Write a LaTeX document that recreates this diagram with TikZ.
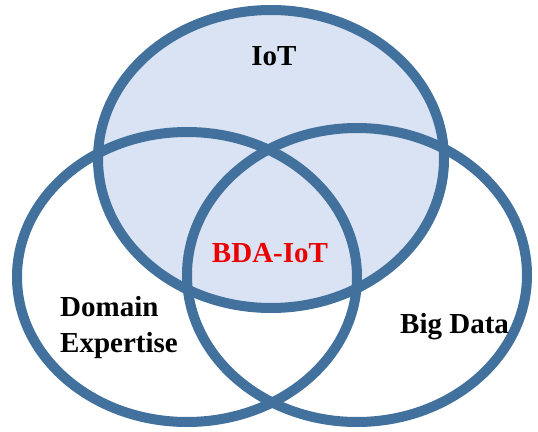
\documentclass[tikz,border=0pt]{standalone}
\usepackage{fontspec}
\setmainfont{Liberation Serif}
\usepackage{tikz}

\definecolor{vennBlue}{RGB}{65,113,156}
\definecolor{vennFill}{RGB}{218,227,243}
\definecolor{vennRed}{RGB}{235,0,0}

\begin{document}
\begin{tikzpicture}[x=1pt, y=-1pt,
	ring/.style={draw=vennBlue, line width=10pt},
	ringFill/.style={fill=vennFill},
	setName/.style={font=\fontsize{29}{36}\selectfont\bfseries, inner sep=0pt}
	]
	\useasboundingbox (0,0) rectangle (538,431);
	
	\coordinate (T) at (271,159);
	\coordinate (L) at (187,277);
	\coordinate (R) at (357,275);
	
	% IoT
	\fill[ringFill] (T) ellipse [x radius=173pt, y radius=149pt];
	
	% rings
	\draw[ring] (T) ellipse [x radius=173pt, y radius=149pt];
	\draw[ring] (L) ellipse [x radius=170pt, y radius=145pt];
	\draw[ring] (R) ellipse [x radius=170pt, y radius=147pt];
	
	% labels
	\node[setName, anchor=base] (iot) at (274,65) {IoT};
	\node[setName, anchor=base, vennRed] (bda) at (270,262) {BDA-IoT};
	\node[setName, anchor=west, align=left] (domain) at (60,328) {Domain\\Expertise};
	\node[setName, anchor=base west] (bigdata) at (400,333) {Big Data};
\end{tikzpicture}
\end{document}
